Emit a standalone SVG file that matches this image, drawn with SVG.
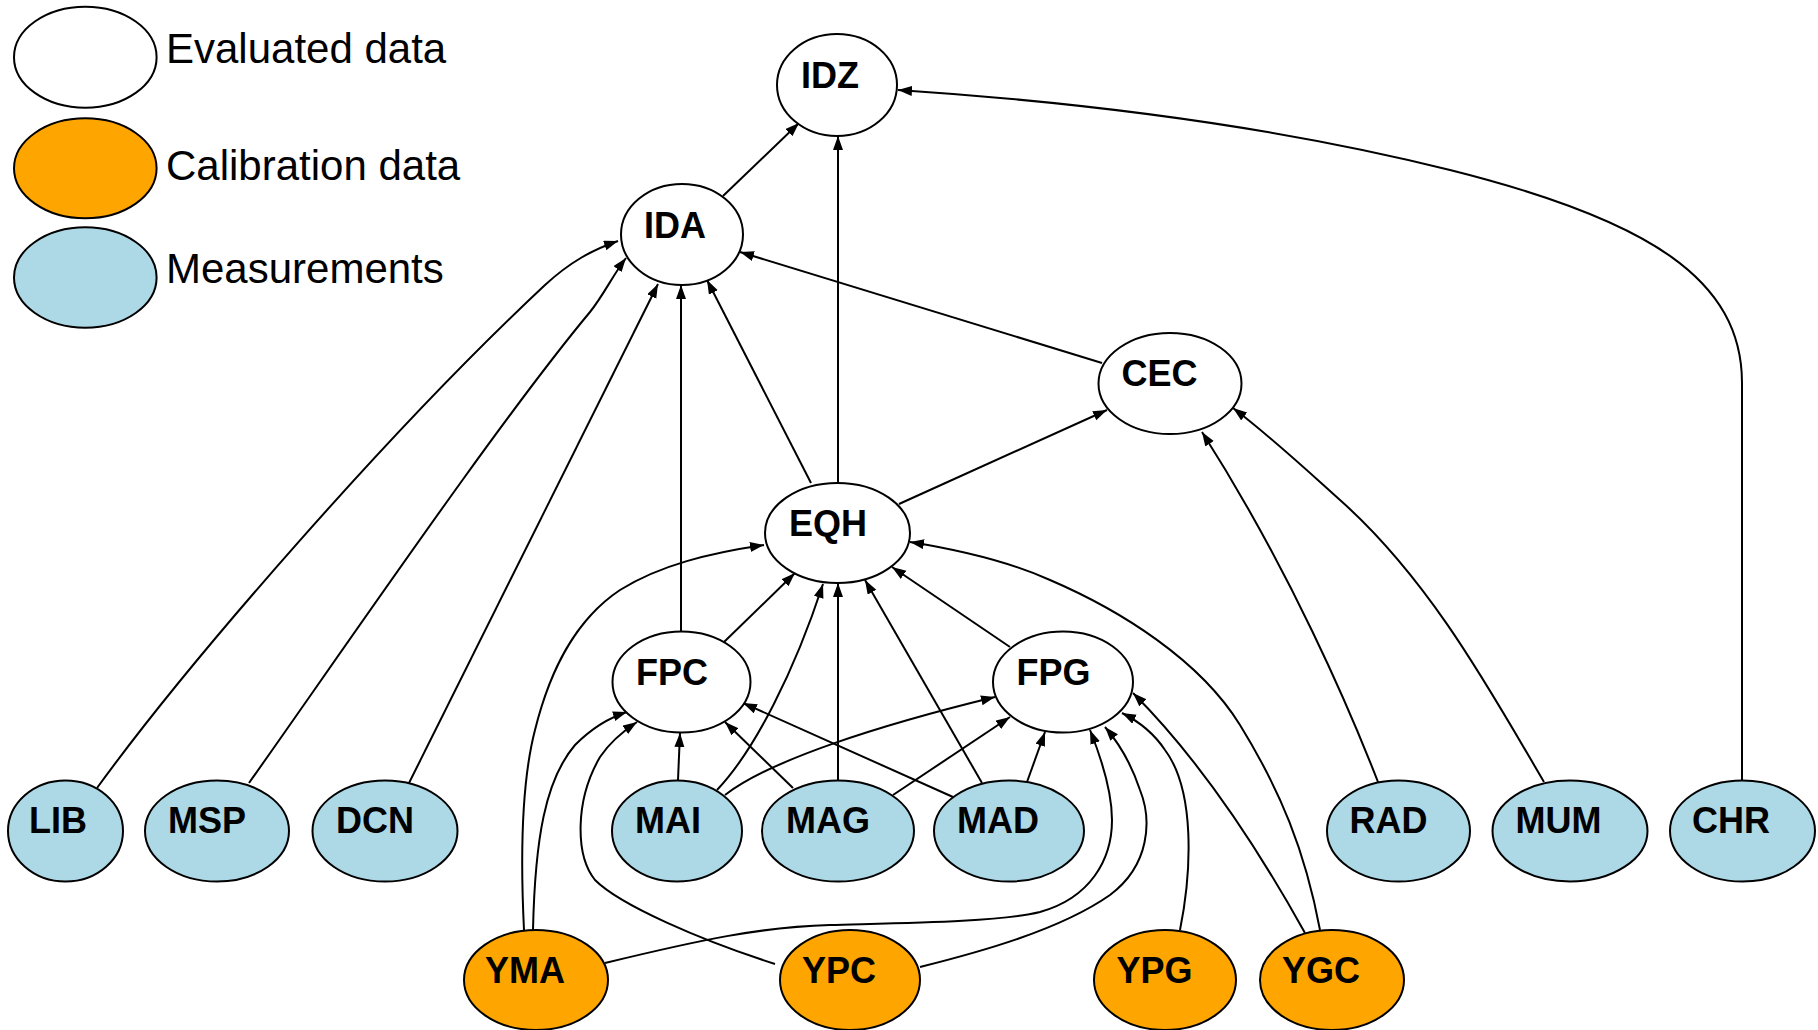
<svg xmlns="http://www.w3.org/2000/svg" width="1818" height="1030" viewBox="0 0 1818 1030">
<style>
.n ellipse{stroke:#000;stroke-width:2}
.ev{fill:#fff}
.ca{fill:#ffa500}
.me{fill:#add8e6}
.n text{font-family:"Liberation Sans",Arial,sans-serif;font-weight:bold;font-size:36px;fill:#000}
.lg{font-family:"Liberation Sans",Arial,sans-serif;font-size:42px;fill:#000}
#edges path{fill:none;stroke:#000;stroke-width:2;marker-end:url(#ah)}
</style>
<defs>
<marker id="ah" markerUnits="userSpaceOnUse" markerWidth="15" markerHeight="11" refX="14" refY="5" orient="auto" viewBox="0 0 15 11">
<path d="M0,0 L14,5 L0,10 z" fill="#000"/>
</marker>
</defs>
<rect width="1818" height="1030" fill="#fff"/>
<g id="legend">
<ellipse class="ev" cx="85.3" cy="57.2" rx="71.3" ry="50.5" stroke="#000" stroke-width="2"/>
<ellipse class="ca" cx="85.3" cy="168.3" rx="71.3" ry="50" stroke="#000" stroke-width="2"/>
<ellipse class="me" cx="85.3" cy="277.5" rx="71.3" ry="50.2" stroke="#000" stroke-width="2"/>
<text class="lg" x="166" y="63">Evaluated data</text>
<text class="lg" x="166" y="180">Calibration data</text>
<text class="lg" x="166" y="283">Measurements</text>
</g>
<g id="edges">
<path d="M723,196 L799,123"/>
<path d="M838,483 L838,136"/>
<path d="M1742,781 L1742,383 C1742,280 1650,220 1450,170 C1250,120 1050,100 898,90"/>
<path d="M1102,363 L740,252"/>
<path d="M811,483 L707,280"/>
<path d="M681,632 L681,285"/>
<path d="M409,783 L658,284"/>
<path d="M249,783 C350,640 500,420 590,312 C603,296 613,275 626,258"/>
<path d="M97,788 C190,660 390,430 545,285 C570,262 592,250 618,241"/>
<path d="M899,504 L1107,410"/>
<path d="M1378,782 C1350,710 1290,570 1202,432"/>
<path d="M1544,782 C1490,690 1430,580 1340,500 C1300,464 1270,436 1233,408"/>
<path d="M724,642 L795,573"/>
<path d="M1010,647 L892,567"/>
<path d="M717,790 C755,750 795,670 823,584"/>
<path d="M838,781 L838,583"/>
<path d="M982,783 L865,580"/>
<path d="M524,930 C520,850 522,780 535,730 C550,670 575,620 620,590 C660,565 710,553 764,545"/>
<path d="M1320,930 C1305,850 1280,790 1240,725 C1200,660 1120,610 1050,580 C1010,562 960,550 910,542"/>
<path d="M678,780 L680,733"/>
<path d="M793,788 L725,722"/>
<path d="M953,797 L743,703"/>
<path d="M725,795 C770,760 880,725 995,697"/>
<path d="M893,795 L1010,717"/>
<path d="M1027,782 L1045,732"/>
<path d="M533,930 C535,840 545,780 575,745 C592,728 608,718 627,712"/>
<path d="M775,964 C700,940 620,905 595,880 C575,855 575,800 600,757 C610,742 622,732 637,722"/>
<path d="M605,963 C700,940 760,927 830,925 C900,923 1000,922 1040,912 C1090,898 1112,860 1112,820 C1112,790 1100,755 1090,730"/>
<path d="M920,967 C980,952 1060,930 1110,895 C1150,865 1152,820 1140,790 C1130,760 1118,742 1105,727"/>
<path d="M1180,930 C1192,870 1195,790 1165,750 C1155,735 1140,722 1122,713"/>
<path d="M1305,933 C1270,870 1210,770 1133,693"/>
</g>
<g id="IDZ" class="n"><ellipse class="ev" cx="837" cy="85" rx="60" ry="51"/><text x="801" y="88">IDZ</text></g>
<g id="IDA" class="n"><ellipse class="ev" cx="682" cy="234.5" rx="61" ry="50.5"/><text x="644" y="238">IDA</text></g>
<g id="CEC" class="n"><ellipse class="ev" cx="1170" cy="383.5" rx="71.5" ry="50.5"/><text x="1121.5" y="385.5">CEC</text></g>
<g id="EQH" class="n"><ellipse class="ev" cx="837.5" cy="533" rx="72.5" ry="50"/><text x="789" y="536">EQH</text></g>
<g id="FPC" class="n"><ellipse class="ev" cx="681.5" cy="682" rx="69" ry="50.5"/><text x="636" y="684.5">FPC</text></g>
<g id="FPG" class="n"><ellipse class="ev" cx="1063" cy="682" rx="70" ry="50.5"/><text x="1016.5" y="684.5">FPG</text></g>
<g id="LIB" class="n"><ellipse class="me" cx="65.5" cy="831" rx="57.5" ry="50.5"/><text x="29" y="833">LIB</text></g>
<g id="MSP" class="n"><ellipse class="me" cx="217" cy="831" rx="72" ry="50.5"/><text x="168" y="833">MSP</text></g>
<g id="DCN" class="n"><ellipse class="me" cx="385" cy="831" rx="72.5" ry="50.5"/><text x="336" y="833">DCN</text></g>
<g id="MAI" class="n"><ellipse class="me" cx="677" cy="831" rx="65" ry="50.5"/><text x="635" y="833">MAI</text></g>
<g id="MAG" class="n"><ellipse class="me" cx="838" cy="831" rx="76" ry="50.5"/><text x="786" y="833">MAG</text></g>
<g id="MAD" class="n"><ellipse class="me" cx="1009" cy="831" rx="75" ry="50.5"/><text x="957" y="833">MAD</text></g>
<g id="RAD" class="n"><ellipse class="me" cx="1398.5" cy="831" rx="71.5" ry="50.5"/><text x="1349.5" y="833">RAD</text></g>
<g id="MUM" class="n"><ellipse class="me" cx="1570" cy="831" rx="77.5" ry="50.5"/><text x="1515.5" y="833">MUM</text></g>
<g id="CHR" class="n"><ellipse class="me" cx="1742.5" cy="831" rx="72.5" ry="50.5"/><text x="1692" y="833">CHR</text></g>
<g id="YMA" class="n"><ellipse class="ca" cx="536" cy="980" rx="72" ry="50"/><text x="485" y="983">YMA</text></g>
<g id="YPC" class="n"><ellipse class="ca" cx="850" cy="980" rx="70" ry="50"/><text x="802" y="983">YPC</text></g>
<g id="YPG" class="n"><ellipse class="ca" cx="1165" cy="980" rx="71" ry="50"/><text x="1116.5" y="983">YPG</text></g>
<g id="YGC" class="n"><ellipse class="ca" cx="1332" cy="980" rx="72" ry="50"/><text x="1282" y="983">YGC</text></g>
</svg>
